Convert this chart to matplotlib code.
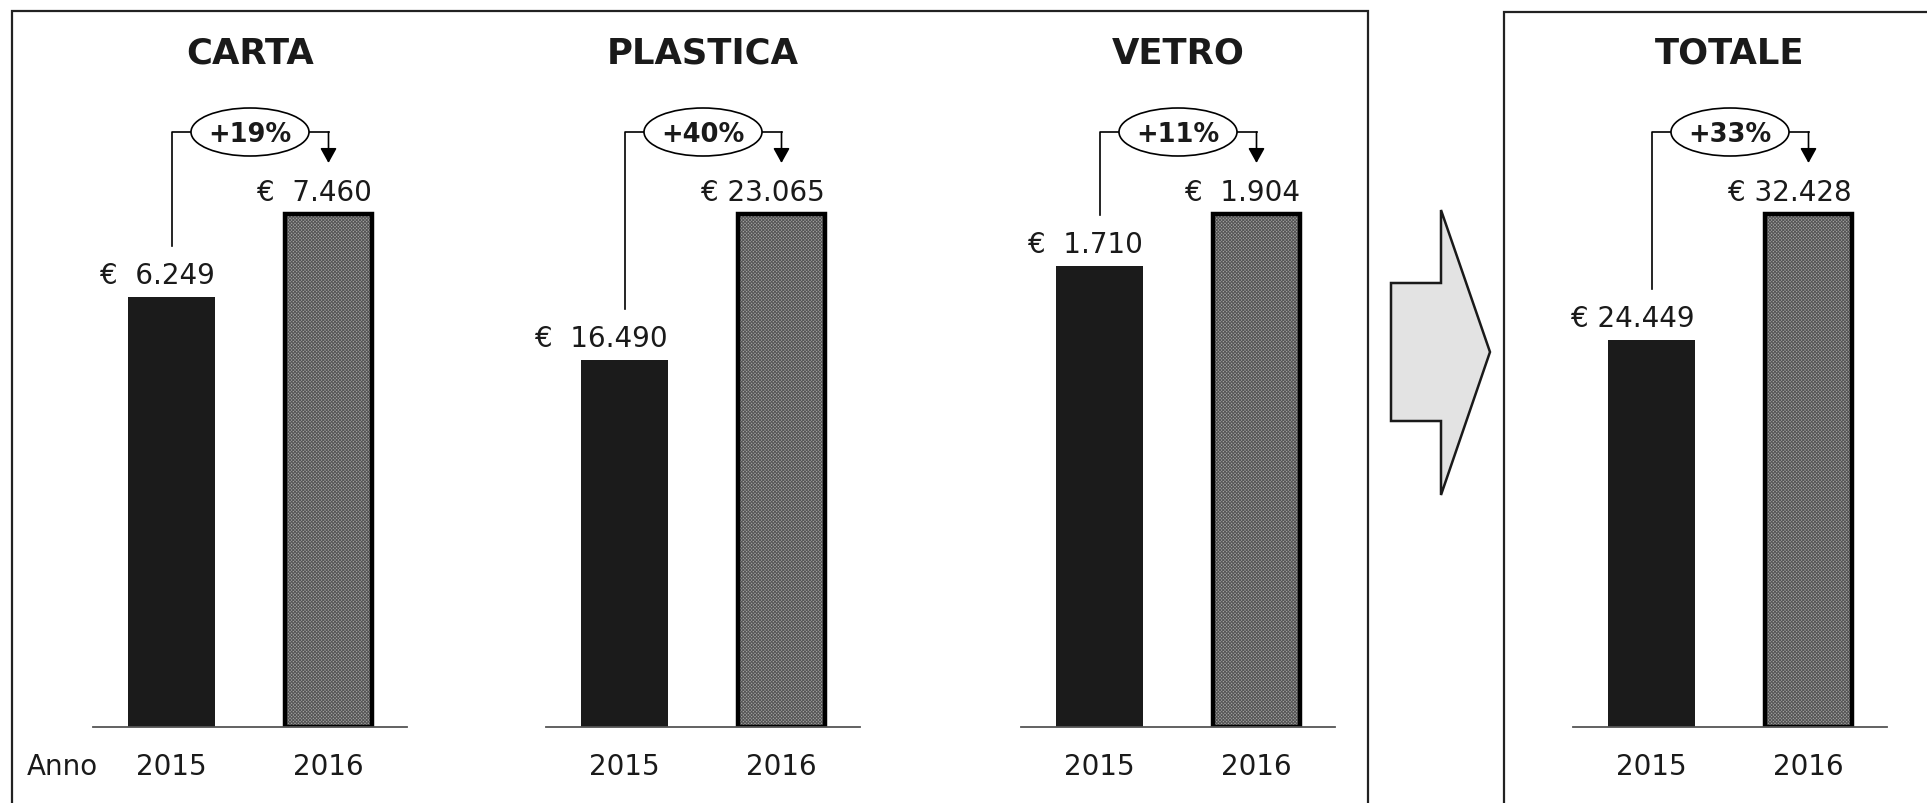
import matplotlib
matplotlib.use("Agg")
import matplotlib.pyplot as plt
from matplotlib.patches import Ellipse, Polygon, Rectangle

# data
panels = ["CARTA", "PLASTICA", "VETRO", "TOTALE"]
years = ["2015", "2016"]
values_2015 = [6249, 16490, 1710, 24449]
values_2016 = [7460, 23065, 1904, 32428]
labels_2015 = ["€  6.249", "€  16.490", "€  1.710", "€ 24.449"]
labels_2016 = ["€  7.460", "€ 23.065", "€  1.904", "€ 32.428"]
growth = ["+19%", "+40%", "+11%", "+33%"]

W, H = 1927, 804
plt.rcParams["font.family"] = ["DejaVu Sans"]
plt.rcParams["hatch.linewidth"] = 0.7

fig = plt.figure(figsize=(W / 100, H / 100), dpi=100)

# layout in pixels (from top)
panel_left = [93, 546, 1021, 1573]
AX_W = 314
AX_BOTTOM = 728
AX_TOP = 12
AX_H = AX_BOTTOM - AX_TOP
BAR_PX = 513       # pixel height of the tallest bar in each panel
PX_X = 2.0 / AX_W  # data units per pixel in x


def frac(py):
    # pixel row (from top) -> axes fraction
    return (AX_BOTTOM - py) / AX_H


for k, name in enumerate(panels):
    ax = fig.add_axes([panel_left[k] / W, (H - AX_BOTTOM) / H, AX_W / W, AX_H / H])
    ax.patch.set_visible(False)
    v15, v16 = values_2015[k], values_2016[k]
    vmax = max(v15, v16)
    ytop = vmax * AX_H / BAR_PX

    ax.bar(0, v15, width=0.55, color="#1b1b1b", linewidth=0)
    ax.bar(1, v16, width=0.55, facecolor="#a2a2a2", edgecolor="#555555",
           hatch="xxxxxxxxxx", linewidth=0)
    ax.bar(1, v16, width=0.55, fill=False, edgecolor="black", linewidth=3.2)

    ax.set_xlim(-0.5, 1.5)
    ax.set_ylim(0, ytop)
    for s in ["top", "left", "right"]:
        ax.spines[s].set_visible(False)
    ax.spines["bottom"].set_color("#555555")
    ax.spines["bottom"].set_linewidth(1.3)
    ax.set_xticks([])
    ax.set_yticks([])

    tr = ax.get_xaxis_transform()
    ax.text(0.5, frac(64), name, transform=tr, ha="center", va="baseline",
            fontsize=25.5, fontweight="bold", color="#1a1a1a")

    # value labels, right aligned to the bar edge
    for i, (v, lbl) in enumerate([(v15, labels_2015[k]), (v16, labels_2016[k])]):
        ax.annotate(lbl, xy=(i + 0.275, v), xytext=(0, 14), textcoords="offset pixels",
                    ha="right", va="baseline", fontsize=20, color="#1a1a1a")
        ax.annotate(years[i], xy=(i, 0), xytext=(0, -47), textcoords="offset pixels",
                    ha="center", va="baseline", fontsize=20, color="#1a1a1a",
                    annotation_clip=False)

    # growth badge with bracket
    yb = frac(133)
    half = 59 * PX_X
    ax.add_patch(Ellipse((0.5, yb), 2 * half, 48 / AX_H, transform=tr,
                         facecolor="white", edgecolor="black", linewidth=1.2,
                         clip_on=False, zorder=3))
    ax.text(0.5, frac(142), growth[k], transform=tr, ha="center", va="baseline",
            fontsize=18.5, fontweight="bold", color="#1a1a1a", zorder=4)
    y_start = v15 / ytop + 51 / AX_H
    ax.plot([0, 0, 0.5 - half], [y_start, yb, yb], transform=tr, color="black",
            linewidth=1.2, clip_on=False)
    ax.plot([0.5 + half, 1], [yb, yb], transform=tr, color="black",
            linewidth=1.2, clip_on=False)
    ax.annotate("", xy=(1, frac(164)), xytext=(1, yb), xycoords=tr,
                arrowprops=dict(arrowstyle="-|>,head_length=0.45,head_width=0.25",
                                color="black", lw=1.2, shrinkA=0, shrinkB=0,
                                mutation_scale=20))

fig.text(27 / W, (H - 775) / H, "Anno", ha="left", va="baseline", fontsize=20,
         color="#1a1a1a")

# frames
fig.add_artist(Rectangle((12 / W, -0.05), (1368 - 12) / W, (H - 12) / H + 0.05,
                         transform=fig.transFigure, fill=False, edgecolor="#222222",
                         linewidth=1.6))
fig.add_artist(Rectangle((1504 / W, -0.05), 1.0, (H - 13) / H + 0.05,
                         transform=fig.transFigure, fill=False, edgecolor="#222222",
                         linewidth=1.6))

# big arrow between the panels
arrow_px = [(1391, 284), (1441, 284), (1441, 211), (1490, 353),
            (1441, 496), (1441, 422), (1391, 422)]
fig.add_artist(Polygon([(x / W, (H - y) / H) for x, y in arrow_px], closed=True,
                       transform=fig.transFigure, facecolor="#e3e3e3",
                       edgecolor="#1a1a1a", linewidth=1.8))

fig.savefig("out.png", dpi=100)
